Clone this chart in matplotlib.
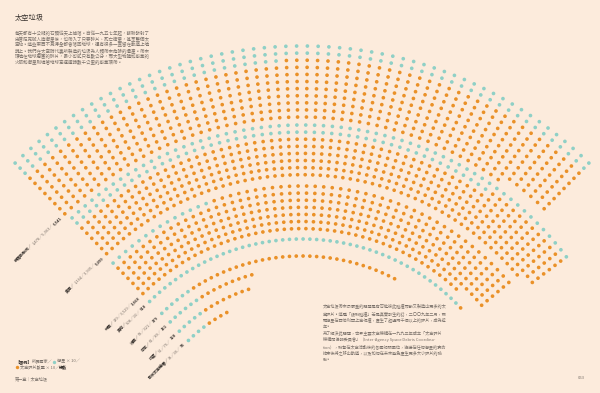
import numpy as np
import matplotlib.pyplot as plt

plt.rcParams['font.family'] = ['Noto Sans CJK TC', 'DejaVu Sans']

BG = '#fcebdc'
TEAL = '#8fd0c6'
ORANGE = '#ea9128'
GREY = '#7a716a'
DARK = '#3a3430'

# each dot = 10 objects
countries = ['俄羅斯聯邦', '美國', '中國', '其他', '法國', '日本', '印度', '歐洲太空總署']
satellites = [1478, 1164, 139, 508, 58, 62, 52, 38]
debris = [5063, 3935, 3529, 10, 321, 89, 76, 36]
totals = [6541, 5099, 3668, 518, 379, 151, 128, 74]

# band layout: outer radius, rows, start angle, end angle (deg)
r_outer = [410, 331, 270, 217, 200, 188, 175, 162]
n_rows = [11, 8, 7, 1, 1, 1, 1, 1]
ang_start = [134.4, 134.0, 134.4, 134.6, 134.5, 134.5, 134.5, 134.5]
ang_end = [45.6, 37.0, 40.0, None, None, None, None, None]

CX, CY = 302, 456
ROW_GAP = 7.1
DOT_GAP = 6.8

fig = plt.figure(figsize=(6, 3.93), dpi=100)
fig.patch.set_facecolor(BG)
ax = fig.add_axes([0, 0, 1, 1])
ax.set_xlim(0, 600)
ax.set_ylim(393, 0)
ax.axis('off')
renderer = fig.canvas.get_renderer()


def text_width(s, **kw):
    t = ax.text(0, 0, s, **kw)
    w = t.get_window_extent(renderer).width
    t.remove()
    return w


for i, name in enumerate(countries):
    n_sat = round(satellites[i] / 10)
    n_deb = round(debris[i] / 10)
    n = n_sat + n_deb
    rows = n_rows[i]
    cols = int(np.ceil(n / rows))
    if ang_end[i] is None:
        step = np.degrees(DOT_GAP / r_outer[i])
        angs = ang_start[i] - step * np.arange(cols)
    else:
        angs = np.linspace(ang_start[i], ang_end[i], cols)
    xs, ys, cs = [], [], []
    k = 0
    for rr in range(rows):
        r = r_outer[i] - rr * ROW_GAP
        for a in angs:
            if k >= n:
                break
            t = np.radians(a)
            xs.append(CX + r * np.cos(t))
            ys.append(CY - r * np.sin(t))
            cs.append(TEAL if k < n_sat else ORANGE)
            k += 1
    ax.scatter(xs, ys, s=7, c=cs, linewidths=0)

    # label along the tangent, ending just before the arc start
    r_lab = r_outer[i] - (rows - 1) * ROW_GAP if rows > 1 else r_outer[i]
    t0 = np.radians(ang_start[i])
    px = CX + r_lab * np.cos(t0)
    py = CY - r_lab * np.sin(t0)
    rot = ang_start[i] - 90
    ux, uy = np.cos(np.radians(rot)), -np.sin(np.radians(rot))
    fs = 2.9
    kw = dict(fontsize=fs, rotation=rot, rotation_mode='anchor', ha='left', va='center')
    parts = [(name + '／', DARK, 'bold'),
             (f'{satellites[i]:,}／{debris[i]:,}／', GREY, 'normal'),
             (f'{totals[i]:,}', DARK, 'bold')]
    widths = [text_width(p[0], fontsize=fs, fontweight=p[2]) for p in parts]
    d = -(sum(widths) + 5)
    for (s, col, fw), w in zip(parts, widths):
        ax.text(px + ux * d, py + uy * d, s, color=col, fontweight=fw, **kw)
        d += w

# titles and body text
ax.text(15, 18, '太空垃圾', fontsize=5.2, color=DARK, ha='left', va='center')
intro = ['每天都有十公噸的石頭從天上掉落。自從一九五七年起，蘇聯發射了',
         '史普尼克號人造衛星後，也帶入了只要碎片、死亡衛星，甚至整個太',
         '空站。這些東西不見得全都會落回地球，還有很多一直留在軌道上繞',
         '轉上。我們在太空時代裏所製造的垃圾為人類帶來危險的遺產。帶來',
         '環繞在地球周圍的碎片，最小可能只有數公分，而大型物體如廢棄的',
         '火箭和衛星則繞著地球高速運轉數千公里的廢棄環帶。']
for j, line in enumerate(intro):
    ax.text(15, 33.5 + j * 5.8, line, fontsize=3.25, color=GREY, ha='left', va='center')

body = ['太空垃圾帶來最嚴重的問題是有可能彼此碰撞而斷又製造出更多的太',
        '空碎片。這種「級聯碰撞」若是真實發生的話，二〇〇九年二月，兩',
        '顆衛星在西伯利亞上空相撞，產生了超過兩千個以上的碎片，成為近',
        '年。',
        '為了解決此問題，世界主要太空機構在一九九三年成立「太空碎片',
        '機構間協調委員會」（Inter-Agency Space Debris Coordina-',
        'tion），聯繫在太空活動後的各國相關單位，協議在任何衛星的壽命',
        '結束後將之移出軌道，以及如何在未來避免產生更多大小碎片的殘',
        '骸。']
for j, line in enumerate(body):
    ax.text(323, 307 + j * 6.6, line, fontsize=3.0, color=GREY, ha='left', va='center')

# legend
lfs = 3.0
x = 15
for s, col, fw in [('【圖例】', DARK, 'bold'), ('所屬國家／', GREY, 'normal')]:
    ax.text(x, 361.5, s, fontsize=lfs, color=col, fontweight=fw, ha='left', va='center')
    x += text_width(s, fontsize=lfs, fontweight=fw)
ax.scatter([x + 2], [361.5], s=6, c=TEAL, linewidths=0)
ax.text(x + 4.5, 361.5, '衛星 × 10／', fontsize=lfs, color=GREY, ha='left', va='center')
ax.scatter([17], [367], s=6, c=ORANGE, linewidths=0)
s2 = '太空碎片數量 × 10／'
ax.text(19.5, 367, s2, fontsize=lfs, color=GREY, ha='left', va='center')
ax.text(19.5 + text_width(s2, fontsize=lfs), 367, '總數', fontsize=lfs, color=DARK,
        fontweight='bold', ha='left', va='center')

ax.text(15, 380, '第一章｜太空垃圾', fontsize=3.0, color=GREY, ha='left', va='center')
ax.text(585, 378, '063', fontsize=3.0, color=GREY, ha='right', va='center')

fig.savefig('out.png', dpi=100, facecolor=BG)
